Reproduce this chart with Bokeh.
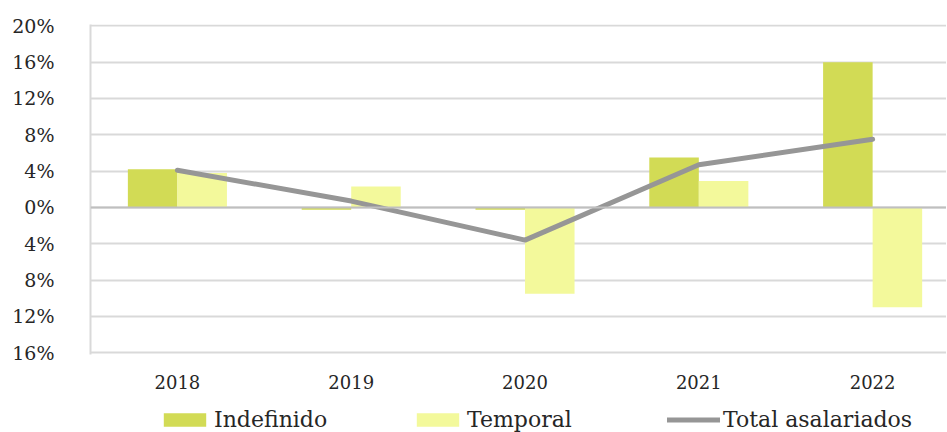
from bokeh.plotting import figure
from bokeh.models import FixedTicker, Span, Legend, LegendItem, Range1d
from bokeh.layouts import column
from bokeh.embed import file_html
from bokeh.resources import INLINE

years = ["2018", "2019", "2020", "2021", "2022"]
indefinido = [4.2, -0.25, -0.25, 5.5, 16.0]
temporal = [3.8, 2.3, -9.5, 2.9, -11.0]
total = [4.1, 0.7, -3.6, 4.7, 7.5]
y_ticks = [-16, -12, -8, -4, 0, 4, 8, 12, 16, 20]
series_names = ["Indefinido", "Temporal", "Total asalariados"]

FONT = "DejaVu Serif"
C_IND = "#d2db55"
C_TEM = "#f3f99b"
C_TOT = "#969696"

xs = list(range(len(years)))
bw = 0.285

p = figure(width=946, height=405, output_backend="svg", toolbar_location=None,
           x_range=Range1d(-0.5, 4.425), y_range=Range1d(-16.2, 20.15),
           min_border_left=90, min_border_right=0, min_border_top=24, min_border_bottom=51)
p.outline_line_color = None
p.background_fill_color = "white"

r1 = p.vbar(x=[x - bw / 2 for x in xs], top=indefinido, bottom=0, width=bw,
            fill_color=C_IND, line_color=None)
r2 = p.vbar(x=[x + bw / 2 for x in xs], top=temporal, bottom=0, width=bw,
            fill_color=C_TEM, line_color=None)

p.add_layout(Span(location=0, dimension="width", line_color="#bfbfbf", line_width=2))

r3 = p.line(xs, total, line_color=C_TOT, line_width=5, line_cap="round", line_join="round")

p.xgrid.grid_line_color = None
p.ygrid.ticker = FixedTicker(ticks=y_ticks)
p.ygrid.grid_line_color = "#d9d9d9"
p.ygrid.grid_line_width = 2

p.yaxis.ticker = FixedTicker(ticks=y_ticks)
p.yaxis.major_label_overrides = {t: f"{abs(t)}%" for t in y_ticks}
p.yaxis.axis_line_color = "#d9d9d9"
p.yaxis.axis_line_width = 2
p.yaxis.major_tick_line_color = None
p.yaxis.minor_tick_line_color = None
p.yaxis.major_tick_out = 0
p.yaxis.major_label_standoff = 36
p.yaxis.major_label_text_font = FONT
p.yaxis.major_label_text_font_size = "19px"
p.yaxis.major_label_text_color = "#262626"

p.xaxis.ticker = FixedTicker(ticks=xs)
p.xaxis.major_label_overrides = {x: y for x, y in zip(xs, years)}
p.xaxis.axis_line_color = None
p.xaxis.major_tick_line_color = None
p.xaxis.minor_tick_line_color = None
p.xaxis.major_tick_out = 0
p.xaxis.major_label_standoff = 20
p.xaxis.major_label_text_font = FONT
p.xaxis.major_label_text_font_size = "18px"
p.xaxis.major_label_text_color = "#262626"

# legend strip: same series, drawn hidden, only their legend entries show
lg_fig = figure(width=946, height=27, output_backend="svg", toolbar_location=None,
                x_axis_type=None, y_axis_type=None, x_range=Range1d(-0.5, 4.425),
                y_range=Range1d(-16.2, 20.15), min_border=0)
lg_fig.outline_line_color = None
lg_fig.grid.visible = False
k1 = lg_fig.vbar(x=xs, top=indefinido, width=bw, fill_color=C_IND, line_color=None, visible=False)
k2 = lg_fig.vbar(x=xs, top=temporal, width=bw, fill_color=C_TEM, line_color=None, visible=False)
k3 = lg_fig.line(x=xs, y=total, line_color=C_TOT, line_width=5, line_cap="round", visible=False)

for name, rend, loc in zip(series_names, [k1, k2, k3], [68, 321, 577]):
    lg = Legend(items=[LegendItem(label=name, renderers=[rend])],
                location=(loc, 0),
                label_text_font=FONT, label_text_font_size="22px", label_text_color="#262626",
                glyph_width=53, glyph_height=17, label_standoff=3,
                padding=0, margin=0, border_line_color=None, background_fill_alpha=0)
    lg_fig.add_layout(lg)

open("out.html", "w").write(file_html(column(p, lg_fig, spacing=0), INLINE))
